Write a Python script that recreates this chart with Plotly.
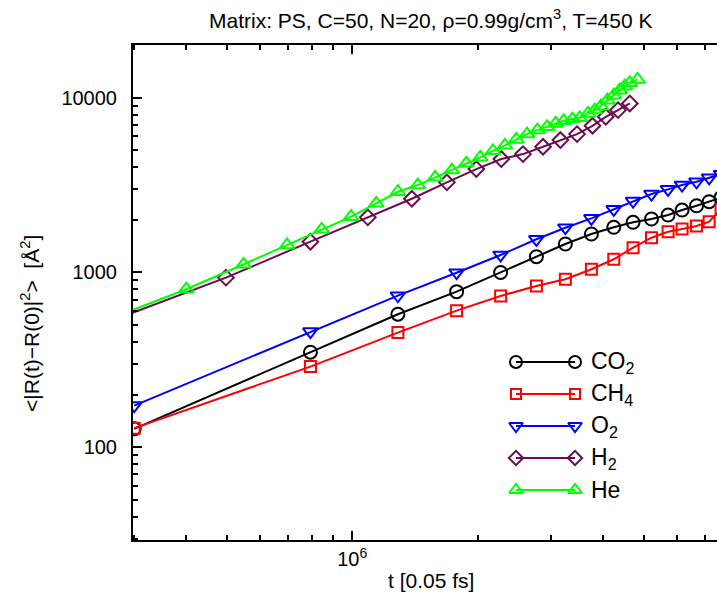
import math
import plotly.graph_objects as go

# ---------------- data ----------------
t_gas = [3.0e5, 7.94e5, 1.287e6, 1.78e6, 2.27e6, 2.766e6, 3.246e6, 3.748e6,
         4.241e6, 4.718e6, 5.223e6, 5.724e6, 6.184e6, 6.698e6, 7.181e6, 7.67e6]
msd_co2 = [127.5, 350, 577, 777, 1000, 1231, 1455, 1660, 1813, 1936, 2022,
           2131, 2276, 2408, 2539, 2680]
msd_ch4 = [128.7, 289.5, 453, 605, 734, 837, 915, 1043, 1190, 1386, 1581,
           1711, 1773, 1844, 1951, 2300]
msd_o2 = [173.3, 459, 737, 997, 1259, 1548, 1803, 2040, 2297, 2562, 2809,
          2988, 3162, 3303, 3481, 3650]

t_h2 = [2.0e5, 4.98e5, 7.94e5, 1.09e6, 1.39e6, 1.687e6, 1.985e6, 2.279e6,
        2.568e6, 2.869e6, 3.158e6, 3.462e6, 3.77e6, 4.058e6, 4.342e6, 4.634e6]
msd_h2 = [412, 934, 1500, 2067, 2641, 3276, 3903, 4453, 4754, 5235, 5718,
          6185, 6902, 7769, 8484, 9266]

t_he = [2.5e5, 4.0e5, 5.49e5, 6.98e5, 8.45e5, 9.94e5, 1.142e6, 1.287e6,
        1.437e6, 1.582e6, 1.734e6, 1.878e6, 2.029e6, 2.176e6, 2.325e6,
        2.476e6, 2.626e6, 2.782e6, 2.933e6, 3.077e6, 3.216e6, 3.375e6,
        3.514e6, 3.68e6, 3.818e6, 3.947e6, 4.095e6, 4.241e6, 4.384e6,
        4.506e6, 4.634e6, 4.835e6]
msd_he = [519, 802, 1114, 1436, 1766, 2084, 2486, 2895, 3162, 3499, 3852,
          4207, 4553, 4966, 5333, 5769, 6185, 6521, 6810, 7121, 7370, 7537,
          7666, 8123, 8484, 8941, 9676, 10335, 11038, 11633, 12150, 12706]

series_names = ["CO<sub>2</sub>", "CH<sub>4</sub>", "O<sub>2</sub>",
                "H<sub>2</sub>", "He"]

x_tickvals = [1e6]
x_ticktext = ["10<sup>6</sup>"]
y_tickvals = [100, 1000, 10000]
y_ticktext = ["100", "1000", "10000"]

title_text = "Matrix: PS, C=50, N=20, \u03c1=0.99g/cm<sup>3</sup>, T=450 K"
x_title = "t [0.05 fs]"
y_title = "&lt;|R(t)\u2212R(0)|<sup>2</sup>&gt;  [\u00c5<sup>2</sup>]"

# ---------------- styles ----------------
FONT = "Liberation Sans, Arial, Helvetica, sans-serif"
W, H = 717, 599
L, R, T, B = 133, 717, 45, 540   # plot area in pixels

styles = [
    dict(color="#000000", symbol="circle-open", size=13),
    dict(color="#ff0000", symbol="square-open", size=11),
    dict(color="#0000ff", symbol="triangle-down-open", size=13),
    dict(color="#6a0d4f", symbol="diamond-open", size=12),
    dict(color="#00ff00", symbol="triangle-up-open", size=13),
]
data_sets = [(t_gas, msd_co2), (t_gas, msd_ch4), (t_gas, msd_o2),
             (t_h2, msd_h2), (t_he, msd_he)]

fig = go.Figure()
for (tx, vy), st, nm in zip(data_sets, styles, series_names):
    fig.add_trace(go.Scatter(
        x=tx, y=vy, mode="lines+markers", name=nm, showlegend=False,
        line=dict(color=st["color"], width=2),
        marker=dict(symbol=st["symbol"], size=st["size"],
                    color=st["color"], line=dict(color=st["color"], width=2)),
        cliponaxis=True, xaxis="x", yaxis="y"))

# ---------------- custom gnuplot-style key ----------------
KEY_X0, KEY_X1, KEY_TX = 516, 575, 589
KEY_ROWS = [362, 394, 426, 458, 490]
for st, nm, ky in zip(styles, series_names, KEY_ROWS):
    fig.add_trace(go.Scatter(
        x=[KEY_X0, KEY_X1], y=[ky, ky], mode="lines+markers",
        showlegend=False, hoverinfo="skip",
        line=dict(color=st["color"], width=2),
        marker=dict(symbol=st["symbol"], size=st["size"] - 1,
                    color=st["color"], line=dict(color=st["color"], width=2)),
        cliponaxis=False, xaxis="x2", yaxis="y2"))
    fig.add_annotation(x=KEY_TX, y=ky, xref="x2", yref="y2", text=nm,
                       showarrow=False, xanchor="left", yanchor="middle",
                       font=dict(size=23, color="black", family=FONT))


def px_x(p):
    return (p - L) / (R - L)


def px_y(p):
    return (B - p) / (B - T)


fig.add_annotation(x=px_x(430), y=px_y(19), xref="paper", yref="paper",
                   text=title_text, showarrow=False, xanchor="center",
                   yanchor="middle", font=dict(size=21, color="black", family=FONT))
fig.add_annotation(x=px_x(431), y=px_y(580), xref="paper", yref="paper",
                   text=x_title, showarrow=False, xanchor="center",
                   yanchor="middle", font=dict(size=21, color="black", family=FONT))
fig.add_annotation(x=px_x(30), y=px_y(324), xref="paper", yref="paper",
                   text=y_title, showarrow=False, textangle=-90,
                   xanchor="center", yanchor="middle",
                   font=dict(size=21, color="black", family=FONT))

x_minor = [3e5, 4e5, 5e5, 6e5, 7e5, 8e5, 9e5, 2e6, 3e6, 4e6, 5e6, 6e6, 7e6]
y_minor = [30, 40, 50, 60, 70, 80, 90, 200, 300, 400, 500, 600, 700, 800,
           900, 2000, 3000, 4000, 5000, 6000, 7000, 8000, 9000]

fig.update_layout(
    width=W, height=H,
    margin=dict(l=L, r=W - R, t=T, b=H - B, pad=0, autoexpand=False),
    paper_bgcolor="white", plot_bgcolor="white",
    font=dict(family=FONT, size=20, color="black"),
    xaxis=dict(type="log", range=[math.log10(2.98e5), math.log10(7.5e6)],
               tickmode="array", tickvals=x_tickvals, ticktext=x_ticktext,
               ticks="inside", ticklen=9, tickwidth=2, tickcolor="black",
               showline=True, linewidth=2, linecolor="black", mirror="ticks",
               showgrid=False, zeroline=False, ticklabelstandoff=0,
               tickfont=dict(size=20, family=FONT),
               minor=dict(tickmode="array", tickvals=x_minor, ticks="inside",
                          ticklen=5, tickwidth=2, tickcolor="black",
                          showgrid=False)),
    yaxis=dict(type="log", range=[math.log10(29.5), math.log10(20000)],
               tickmode="array", tickvals=y_tickvals, ticktext=y_ticktext,
               ticks="inside", ticklen=9, tickwidth=2, tickcolor="black",
               showline=True, linewidth=2, linecolor="black", mirror=False,
               showgrid=False, zeroline=False, ticklabelstandoff=10,
               tickfont=dict(size=20, family=FONT),
               minor=dict(tickmode="array", tickvals=y_minor, ticks="inside",
                          ticklen=5, tickwidth=2, tickcolor="black",
                          showgrid=False)),
    xaxis2=dict(overlaying="x", range=[L, R], visible=False, fixedrange=True,
                anchor="y2"),
    yaxis2=dict(overlaying="y", range=[B, T], visible=False, fixedrange=True,
                anchor="x2"),
    showlegend=False,
)

fig.write_html("out.html",
               config={"displayModeBar": False},
               post_script="document.body.style.margin='0';"
                           "document.body.style.padding='0';")
